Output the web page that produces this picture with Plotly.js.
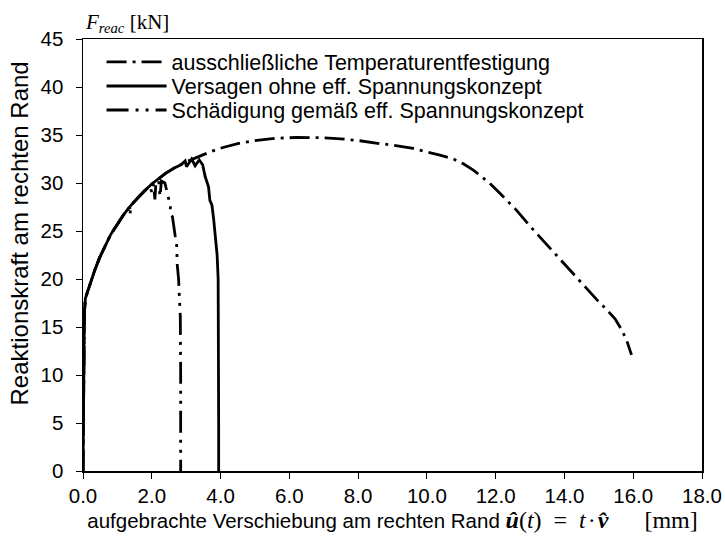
<!DOCTYPE html>
<html>
<head>
<meta charset="utf-8">
<script src="https://cdn.plot.ly/plotly-3.0.1.min.js"></script>
<style>html,body{margin:0;padding:0;background:#fff;}#chart{width:725px;height:538px;}</style>
</head>
<body>
<div id="chart"></div>
<script>
// Series 1: ausschließliche Temperaturentfestigung
const tempX = [0, 0.01, 0.02, 0.03, 0.04, 0.07, 0.145, 0.25, 0.34, 0.48, 0.63, 0.8, 1.02, 1.2, 1.4, 1.6, 1.79, 2.0, 2.18, 2.4, 2.67, 3.0, 3.4, 3.7, 4.07, 4.5, 4.94, 5.6, 6.22, 6.89, 7.5, 8.05, 8.64, 9.01, 9.6, 10.09, 10.38, 10.77, 11.06, 11.35, 11.64, 11.83, 12.13, 12.42, 12.61, 13.0, 13.29, 13.68, 13.97, 14.36, 14.65, 14.94, 15.23, 15.47, 15.66, 15.81, 15.95];
const tempY = [0, 5, 10, 14, 16.5, 18, 18.85, 19.9, 20.9, 22.2, 23.4, 24.6, 25.8, 26.8, 27.7, 28.5, 29.2, 29.9, 30.4, 31.0, 31.6, 32.2, 32.8, 33.25, 33.7, 34.1, 34.4, 34.65, 34.75, 34.72, 34.6, 34.4, 34.1, 33.95, 33.6, 33.2, 32.9, 32.5, 32.0, 31.35, 30.55, 29.97, 28.9, 27.85, 27.15, 25.5, 24.35, 22.75, 21.6, 20.1, 18.95, 17.85, 16.8, 15.85, 14.75, 13.6, 12.1];

// Series 2: Versagen ohne eff. Spannungskonzept
const versX = [0, 0.01, 0.02, 0.03, 0.04, 0.07, 0.145, 0.25, 0.34, 0.48, 0.63, 0.8, 1.02, 1.2, 1.4, 1.6, 1.79, 2.0, 2.18, 2.4, 2.67, 2.85, 2.97, 3.01, 3.16, 3.26, 3.38, 3.48, 3.55, 3.6, 3.65, 3.69, 3.75, 3.8, 3.86, 3.9, 3.93, 3.94, 3.945, 3.945];
const versY = [0, 5, 10, 14, 16.5, 18, 18.85, 19.9, 20.9, 22.2, 23.4, 24.6, 25.8, 26.8, 27.7, 28.5, 29.2, 29.9, 30.4, 31.0, 31.6, 31.9, 32.3, 31.7, 32.5, 31.8, 32.4, 31.9, 30.7, 30.2, 29.6, 28.2, 27.7, 26.2, 24.2, 22.5, 20.0, 15.7, 5, 0];

// Series 3: Schädigung gemäß eff. Spannungskonzept
const schX = [0, 0.01, 0.02, 0.03, 0.04, 0.07, 0.145, 0.25, 0.34, 0.48, 0.63, 0.8, 1.02, 1.2, 1.33, 1.36, 1.37, 1.38, 1.6, 1.79, 1.95, 2.0, 2.05, 2.09, 2.12, 2.2, 2.24, 2.28, 2.38, 2.45, 2.5, 2.55, 2.53, 2.6, 2.63, 2.68, 2.72, 2.74, 2.78, 2.80, 2.82, 2.83, 2.84, 2.84];
const schY = [0, 5, 10, 14, 16.5, 18, 18.85, 19.9, 20.9, 22.2, 23.4, 24.6, 25.8, 26.8, 27.3, 27.5, 26.7, 27.6, 28.5, 29.2, 29.7, 29.0, 29.9, 28.3, 30.0, 30.3, 28.6, 30.2, 30.0, 29.0, 28.2, 27.9, 26.8, 26.5, 25.5, 24.5, 24.0, 21.5, 20.0, 18.5, 17.1, 16.0, 10, 0];

const seriesNames = ['ausschließliche Temperaturentfestigung', 'Versagen ohne eff. Spannungskonzept', 'Schädigung gemäß eff. Spannungskonzept'];
const xTicks = [0, 2, 4, 6, 8, 10, 12, 14, 16, 18];
const yTicks = [0, 5, 10, 15, 20, 25, 30, 35, 40, 45];

const SANS = 'Liberation Sans, Arial, Helvetica, sans-serif';
const SERIF = 'Liberation Serif, Times New Roman, serif';

const traces = [
  {x: tempX, y: tempY, name: seriesNames[0], legend: 'legend', mode: 'lines', line: {color: '#000', width: 2.8, dash: '20px,6px,3px,6px'}},
  {x: versX, y: versY, name: seriesNames[1], legend: 'legend2', mode: 'lines', line: {color: '#000', width: 2.8}},
  {x: schX, y: schY, name: seriesNames[2], legend: 'legend3', mode: 'lines', line: {color: '#000', width: 2.8, dash: '22px,7px,3px,7px,3px,7px'}}
];

const axisCommon = {
  showline: true, mirror: true, linecolor: '#000', linewidth: 1.5,
  ticks: 'outside', ticklen: 6, tickwidth: 1, tickcolor: '#000',
  showgrid: false, zeroline: false,
  tickfont: {family: SANS, size: 20.5, color: '#000'}
};

function legendAt(yPaper) {
  return {x: 0.03, y: yPaper, xanchor: 'left', yanchor: 'middle', bgcolor: 'rgba(0,0,0,0)',
          font: {family: SANS, size: 21.5, color: '#000'}, itemwidth: 60};
}

const mathPart = '<span style="font-family:Liberation Serif;font-size:24px"><b><i>û</i></b>(<i>t</i>)\u2002=\u2002<i>t</i>\u200a·\u200a<b><i>v̂</i></b>\u2003\u2002[mm]</span>';

const layout = {
  width: 725, height: 538,
  margin: {l: 83, r: 23, t: 39, b: 67},
  paper_bgcolor: '#fff', plot_bgcolor: '#fff',
  showlegend: true,
  legend: legendAt(0.9468),
  legend2: legendAt(0.8912),
  legend3: legendAt(0.8356),
  xaxis: Object.assign({}, axisCommon, {
    range: [0, 18], tickvals: xTicks, ticktext: xTicks.map(v => v.toFixed(1)),
    title: {text: 'aufgebrachte Verschiebung am rechten Rand ' + mathPart,
            font: {family: SANS, size: 20.5, color: '#000'}, standoff: 5}
  }),
  yaxis: Object.assign({}, axisCommon, {
    range: [0, 45], tickvals: yTicks, ticktext: yTicks.map(v => String(v)),
    ticklabelstandoff: 8
  }),
  annotations: [{
    xref: 'paper', yref: 'paper', x: 0, y: 1, xanchor: 'left', yanchor: 'bottom', yshift: 1, xshift: 0,
    showarrow: false, text: '<i>F<sub>reac</sub></i> [kN]', font: {family: SERIF, size: 21, color: '#000'}
  }, {
    xref: 'paper', yref: 'paper', x: 0, y: 0.5498, xanchor: 'center', yanchor: 'middle', xshift: -64,
    textangle: -90, showarrow: false, text: 'Reaktionskraft am rechten Rand',
    font: {family: SANS, size: 24, color: '#000'}
  }]
};

Plotly.newPlot('chart', traces, layout, {displayModeBar: false, staticPlot: true});
</script>
</body>
</html>
